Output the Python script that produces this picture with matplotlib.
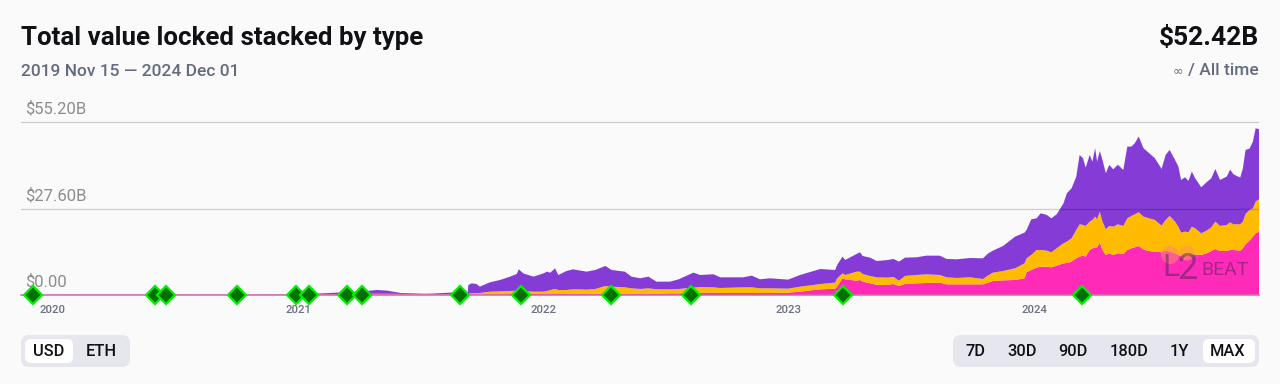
"""
L2BEAT style stacked TVL chart, values read off the reference picture.
"""
import matplotlib
matplotlib.use("Agg")
import matplotlib.pyplot as plt
import numpy as np
from matplotlib.patches import Circle, FancyBboxPatch

plt.rcParams["font.family"] = ["Roboto", "DejaVu Sans"]

W, H = 1280, 384
START = np.datetime64("2019-11-15")
END = np.datetime64("2024-12-01")

# days after START
days = [
    0, 200, 380, 440, 470, 490, 515, 530, 545, 565, 600,
    609, 639, 665, 666, 671, 678, 683, 698, 713, 728, 738, 741, 748, 763, 778, 783, 788, 795, 800,
    812, 822, 827, 842, 855, 870, 879, 899, 909, 922, 934, 946, 966, 979, 1001, 1011, 1031, 1041,
    1075, 1088, 1100, 1115, 1142, 1160, 1180, 1190, 1212, 1215, 1223, 1227, 1244,
    1249, 1253, 1264, 1274, 1289, 1299, 1307, 1316, 1333, 1348, 1368, 1378, 1393, 1413, 1432, 1440,
    1447, 1462, 1480, 1494, 1497, 1504, 1512, 1518, 1527, 1534, 1542, 1552, 1557, 1564, 1571, 1576,
    1581, 1585, 1591, 1595, 1599, 1602, 1606, 1610, 1615, 1620, 1626, 1633, 1641, 1647, 1653, 1658,
    1664, 1671, 1678, 1688, 1698, 1704, 1710, 1718, 1723, 1727, 1733, 1738, 1743, 1748, 1757, 1765,
    1772, 1778, 1785, 1795, 1800, 1805, 1815, 1819, 1823, 1829, 1834, 1838, 1843,
]
# billions of USD
pink = [
    .01, .02, .04, .15, .2, .2, .2, .2, .2, .2, .2,
    .11, .11, .21, .21, .21, .21, .21, .21, .21, .32, .32, .32, .32, .32, .32, .32, .32, .32, .32,
    .32, .43, .43, .43, .43, .43, .43, .43, .43, .43, .43, .43, .53, .53, .75, .75, .75, .64,
    .64, .64, .64, .64, .75, 1.07, 1.6, 1.81, 2.03, 2.67, 5.33, 5.01, 4.58,
    4.8, 4.26, 3.73, 3.3, 3.2, 3.52, 2.88, 3.52, 3.73, 3.84, 3.94, 3.41, 3.41, 3.41, 3.41, 3.94,
    4.48, 4.69, 4.8, 5.33, 7.25, 8.0, 8.74, 9.06, 9.06, 8.85, 9.38, 10.13, 10.23, 10.66, 11.73, 12.26,
    12.58, 12.26, 14.39, 14.92, 15.14, 15.24, 16.74, 14.39, 12.79, 13.33, 12.79, 13.33, 13.11, 14.39, 14.92, 15.24,
    15.67, 14.6, 14.07, 13.86, 13.65, 14.18, 13.86, 13.33, 12.79, 12.47, 12.58, 12.58, 13.0, 13.0, 12.79, 13.33,
    14.07, 14.71, 14.07, 14.07, 14.39, 14.39, 14.18, 14.92, 16.2, 17.38, 18.66, 19.72, 20.25,
]
yellow = [
    .01, .01, .02, .1, .1, .15, .2, .2, .2, .15, .1,
    .11, .11, .21, .21, .32, .43, .43, .85, .96, .96, 1.07, 1.07, .96, .75, .75, .96, 1.28, 1.6, 1.28,
    1.28, 1.39, 1.39, 1.28, 1.5, 2.45, 2.24, 2.03, 1.7, 1.5, 1.7, 1.39, 1.28, 1.39, 1.6, 1.81, 1.7, 1.6,
    1.81, 1.81, 1.5, 1.5, 1.28, 1.6, 1.6, 1.7, 1.92, 2.67, 1.6, 1.39, 2.88,
    2.67, 2.45, 2.35, 2.35, 2.35, 2.24, 1.7, 2.56, 2.67, 2.77, 2.45, 2.24, 2.03, 2.24, 1.7, 2.35,
    2.67, 2.98, 3.73, 4.8, 4.48, 4.8, 5.65, 5.33, 5.12, 4.8, 5.59, 6.4, 6.82, 7.46, 9.06, 10.34,
    9.81, 9.81, 9.06, 9.06, 9.91, 8.95, 9.91, 9.06, 8.21, 8.74, 9.06, 9.27, 8.95, 10.13, 10.34, 10.55,
    10.77, 10.45, 10.55, 10.13, 8.53, 9.81, 11.41, 10.13, 9.06, 7.46, 7.68, 7.46, 8.85, 8.32, 6.93, 7.25,
    7.57, 8.74, 8.0, 8.32, 8.85, 8.21, 8.42, 8.53, 9.7, 9.81, 9.06, 10.13, 10.34,
]
purple = [
    .01, .02, .05, .2, .45, .5, .9, 1.2, 1.0, .3, .1,
    .21, .53, .53, 2.77, 3.2, 2.88, 2.03, 2.98, 3.62, 4.58, 5.33, 6.82, 5.6, 4.8, 5.86, 6.18, 5.53, 6.6, 4.8,
    6.07, 6.4, 6.18, 5.76, 6.07, 6.4, 5.33, 5.0, 3.73, 3.41, 3.73, 2.45, 2.45, 3.09, 4.8, 3.84, 4.18, 3.41,
    3.2, 3.73, 2.88, 3.2, 2.88, 3.73, 4.48, 4.8, 4.05, 4.26, 5.33, 4.8, 5.65,
    6.18, 5.76, 5.86, 5.22, 5.6, 5.76, 6.07, 5.86, 5.65, 5.97, 6.18, 5.86, 5.97, 6.18, 6.61, 7.04,
    7.04, 8.0, 10.13, 9.81, 9.06, 11.4, 10.13, 11.73, 11.41, 10.87, 10.87, 12.79, 15.46, 16.0, 17.06, 22.17,
    21.32, 18.65, 21.32, 18.65, 21.85, 18.44, 19.4, 19.72, 17.9, 19.5, 18.33, 19.04, 17.9, 22.92, 22.17, 22.7,
    24.2, 21.9, 20.99, 19.72, 18.12, 20.78, 21.11, 19.72, 19.19, 16.84, 17.38, 16.41, 17.59, 15.99, 14.71, 15.46,
    15.67, 16.84, 14.71, 15.46, 16.84, 15.99, 14.92, 17.0, 20.47, 19.62, 21.32, 23.45, 22.39,
]

milestone_days = [18, 200, 216, 321, 410, 428, 485, 507, 654, 744, 878, 997, 1224, 1579]
y_ticks = [0, 27.6, 55.2]
y_labels = ["$0.00", "$27.60B", "$55.20B"]
year_ticks = ["2020-01-01", "2021-01-01", "2022-01-01", "2023-01-01", "2024-01-01"]
year_labels = ["2020", "2021", "2022", "2023", "2024"]
unit_buttons = ["USD", "ETH"]
unit_x = [49, 101.5]
range_buttons = ["7D", "30D", "90D", "180D", "1Y", "MAX"]
range_x = [976, 1022, 1073, 1129, 1179, 1228]

BG = "#fafafa"
GREY = "#646b80"


def pill(ax, x0, y0, x1, y1, color, r):
    ax.add_patch(FancyBboxPatch((x0 + r, y0 + r), x1 - x0 - 2 * r, y1 - y0 - 2 * r,
                                boxstyle=f"round,pad={r},rounding_size={r}",
                                fc=color, ec="none"))


def main():
    fig = plt.figure(figsize=(W / 100, H / 100), dpi=100, facecolor=BG)

    # main chart: x 21..1259 px, y 295..110 px
    ax = fig.add_axes([21 / W, 1 - 295 / H, 1238 / W, 185 / H], facecolor="none")
    dates = START + np.array(days).astype("timedelta64[D]")
    ax.stackplot(dates, pink, yellow, purple, colors=["#ff2ab8", "#ffbb00", "#853bd6"], lw=0)
    ax.set_xlim(START, END)
    ax.set_ylim(0, 59.13)

    ax.set_yticks(y_ticks)
    ax.set_yticklabels([])
    ax.set_axisbelow(False)
    ax.grid(axis="y", color="black", alpha=0.17, lw=1.0)
    ax.set_xticks(np.array(year_ticks, dtype="datetime64[D]"))
    ax.set_xticklabels(year_labels, fontsize=8.2, fontweight="medium", color="#6b7080")
    ax.tick_params(length=0, pad=7.2)
    for s in ax.spines.values():
        s.set_visible(False)

    for val, lab in zip(y_ticks, y_labels):
        ax.annotate(lab, xy=(0, val), xycoords=("axes fraction", "data"),
                    xytext=(2.9, 3.9), textcoords="offset points",
                    fontsize=12, color="#8c8c8c", va="bottom", ha="left")

    ax.axhline(0, color="#dc62ae", lw=1.1, clip_on=False, zorder=4)
    ms_dates = START + np.array(milestone_days).astype("timedelta64[D]")
    ax.plot(ms_dates, np.zeros(len(milestone_days)), ls="none", marker="D", ms=9.3,
            mfc="#007000", mec="#00f000", mew=1.6, clip_on=False, zorder=5)

    # overlay in pixel coordinates for the page furniture
    ov = fig.add_axes([0, 0, 1, 1], facecolor="none")
    ov.set_xlim(0, W)
    ov.set_ylim(H, 0)
    ov.axis("off")

    ov.text(21, 38.5, "Total value locked stacked by type", fontsize=18.65, fontweight="bold",
            color="#101114", va="center", ha="left")
    ov.text(21, 71, "2019 Nov 15 — 2024 Dec 01", fontsize=12.5, fontweight="medium",
            color=GREY, va="center", ha="left")
    ov.text(1259, 38.5, "$52.42B", fontsize=19, fontweight="bold", color="#101114",
            va="center", ha="right")
    ov.text(1259, 71, "/ All time", fontsize=12.5, fontweight="medium", color=GREY,
            va="center", ha="right")
    ov.text(1178, 71, "∞", fontsize=9, color=GREY, va="center", ha="center",
            family=["DejaVu Sans"])

    pill(ov, 21, 335, 130, 367, "#e5e6ee", 8)
    pill(ov, 25, 339, 73, 363, "white", 6)
    for lab, x in zip(unit_buttons, unit_x):
        ov.text(x, 351, lab, fontsize=11.8, fontweight="medium", color="#101114",
                ha="center", va="center")

    pill(ov, 953, 335, 1259, 367, "#e5e6ee", 8)
    pill(ov, 1203, 339, 1255, 363, "white", 6)
    for lab, x in zip(range_buttons, range_x):
        ov.text(x, 351, lab, fontsize=11.8, fontweight="medium", color="#101114",
                ha="center", va="center")

    # watermark
    ov.add_patch(Circle((1170, 255), 9, fc="#ff8a70", ec="none", alpha=0.55))
    ov.add_patch(Circle((1187, 253), 7.5, fc="#ff9a50", ec="none", alpha=0.6))
    ov.text(1162, 276, "L", fontsize=23, color="#3a2050", alpha=0.45, va="baseline", ha="left")
    ov.text(1177, 279, "2", fontsize=26, color="#3a2050", alpha=0.45, va="baseline", ha="left")
    ov.text(1201, 275, "BEAT", fontsize=14, color="#3a2050", alpha=0.45, va="baseline", ha="left")

    fig.savefig("out.png", dpi=100, facecolor=BG)


if __name__ == "__main__":
    assert len(days) == len(pink) == len(yellow) == len(purple), (len(days), len(pink), len(yellow), len(purple))
    main()
